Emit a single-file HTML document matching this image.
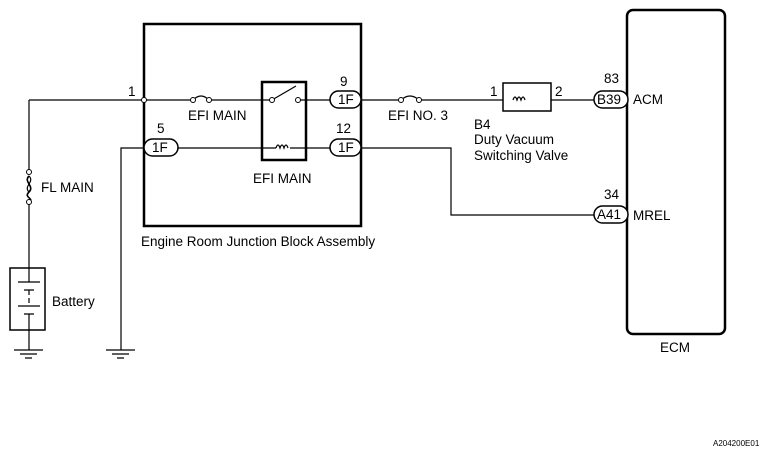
<!DOCTYPE html>
<html><head><meta charset="utf-8"><style>
body{margin:0;background:#fff}
svg text{font-family:"Liberation Sans",Arial,sans-serif;font-size:13.5px;fill:#000}
</style></head><body>
<svg width="766" height="455" viewBox="0 0 766 455" xmlns="http://www.w3.org/2000/svg">
<g fill="none" stroke="#000">
<rect x="144" y="24" width="217" height="202" stroke-width="2.5"/>
<rect x="262" y="82" width="44" height="78" stroke-width="2.5"/>
<rect x="627" y="10" width="98" height="324" rx="6" stroke-width="2.5"/>
<rect x="503" y="83" width="48" height="28" stroke-width="1.5"/>
<rect x="10" y="268" width="35" height="62" stroke-width="1.5"/>
</g>
<g fill="none" stroke="#000" stroke-width="1.2">
<path d="M29 100H144M144 100H193M209 100H272M298 100H330M361 100H401M419 100H503M551 100H594"/>
<path d="M193 100q8 -8 16 0"/>
<path d="M401 100q9 -8 18 0"/>
<path d="M272 100L296 86"/>
<path d="M29 100V172M29 202V268M29 330V350"/>
<path d="M29 176c-6 6 6 10 0 16c-6 6 6 6 0 10" stroke-width="1.6"/>
<path d="M29 176c6 6 -6 10 0 16"/>
<path d="M18 282H40M24 290H34M29 290V295M29 298V303M18 306H40M24 314H34M29 268V282M29 314V330"/>
<path d="M14 350H43M20 354H37M25 358H32"/>
<path d="M106 350H135M112 354H129M117 358H124"/>
<path d="M121 350V148H144M178 148H276M290 148H330M361 148H451V215H594"/>
<path d="M276 148q2 -6 4 0q2 -6 4 0q2 -6 4 0"/>
<path d="M513 100q2 -6 4 0q2 -6 4 0q2 -6 4 0"/>
</g>
<g fill="#fff" stroke="#000" stroke-width="1">
<circle cx="144" cy="100" r="2.5"/>
<circle cx="193" cy="100" r="2.5"/><circle cx="209" cy="100" r="2.5"/>
<circle cx="272" cy="100" r="2.5"/><circle cx="298" cy="100" r="2.5"/>
<circle cx="401" cy="100" r="2.5"/><circle cx="419" cy="100" r="2.5"/>
<circle cx="29" cy="172" r="2.5"/><circle cx="29" cy="202" r="2.5"/>
</g>
<g fill="#fff" stroke="#000" stroke-width="1.5">
<rect x="330" y="91" width="31" height="17" rx="8.5"/>
<rect x="330" y="139" width="31" height="17" rx="8.5"/>
<rect x="144" y="139" width="34" height="17" rx="8.5"/>
<rect x="594" y="91" width="34" height="17" rx="8.5"/>
<rect x="594" y="206" width="34" height="17" rx="8.5"/>
</g>
<text x="338" y="104">1F</text>
<text x="338" y="152">1F</text>
<text x="152" y="152">1F</text>
<text x="597" y="104">B39</text>
<text x="597" y="219">A41</text>
<text x="128" y="96">1</text>
<text x="340" y="86">9</text>
<text x="336" y="133">12</text>
<text x="157" y="133">5</text>
<text x="604" y="83">83</text>
<text x="604" y="199">34</text>
<text x="188" y="120">EFI MAIN</text>
<text x="253" y="183">EFI MAIN</text>
<text x="388" y="120">EFI NO. 3</text>
<text x="41" y="192">FL MAIN</text>
<text x="52" y="306">Battery</text>
<text x="141" y="246">Engine Room Junction Block Assembly</text>
<text x="490" y="96">1</text>
<text x="555" y="96">2</text>
<text x="474" y="129">B4</text>
<text x="474" y="144">Duty Vacuum</text>
<text x="474" y="160">Switching Valve</text>
<text x="633" y="104">ACM</text>
<text x="633" y="220">MREL</text>
<text x="660" y="352">ECM</text>
<text x="713" y="446" style="font-size:8px">A204200E01</text>
</svg>
</body></html>
